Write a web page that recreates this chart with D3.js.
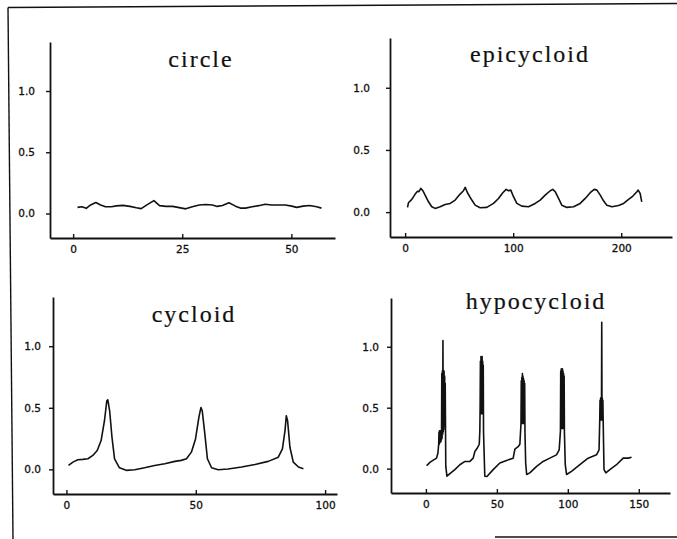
<!DOCTYPE html>
<html>
<head>
<meta charset="utf-8">
<script src="https://cdn.jsdelivr.net/npm/d3@7"></script>
<style>
  html, body { margin: 0; padding: 0; background: #fff; }
  svg { display: block; }
</style>
</head>
<body>
<svg id="chart" width="677" height="539"></svg>
<script>
// ---------------- DATA ----------------
const circleX = [1,2,3,4,5.2,6.3,7.4,8.8,9.9,11.4,13,14.5,15.6,16.9,18.5,19.8,21.3,22.8,24.3,25.8,27.3,28.9,30.4,31.9,33,34.2,35.7,37.2,38.3,39.5,41,42.5,44,45.5,47,48.6,50.1,51.2,52.7,54.2,55.8,56.9];
const circleY = [0.05,0.055,0.042,0.07,0.09,0.07,0.055,0.055,0.062,0.066,0.058,0.047,0.04,0.07,0.105,0.064,0.058,0.058,0.048,0.038,0.055,0.07,0.073,0.07,0.058,0.066,0.088,0.06,0.044,0.044,0.055,0.064,0.075,0.07,0.07,0.07,0.06,0.05,0.06,0.065,0.055,0.044];

const epiX = [2.2,3.1,6.2,9.3,11.5,12.8,14.5,16.4,18.5,21.6,24.7,27.8,32.4,37,41.7,46.3,50.9,54,55.6,57.7,61.7,64.8,69.4,75.6,81.8,86.4,90.4,93.5,95.7,97.8,100.3,103.4,108,114.2,120.4,125,129.6,134.3,136.7,138.9,142,145,149.7,155.9,162,166.7,171.3,175,177.5,180.6,183.6,186.7,191.4,197.5,202.2,206.8,210.8,214.5,215.7,217.5,219];
const epiY = [0.038,0.075,0.102,0.145,0.168,0.165,0.191,0.172,0.137,0.083,0.043,0.030,0.043,0.062,0.070,0.097,0.145,0.172,0.199,0.156,0.097,0.056,0.035,0.038,0.070,0.110,0.156,0.183,0.172,0.177,0.124,0.070,0.048,0.043,0.070,0.097,0.137,0.172,0.183,0.164,0.110,0.056,0.038,0.043,0.070,0.110,0.156,0.183,0.177,0.137,0.091,0.056,0.043,0.054,0.070,0.102,0.129,0.164,0.177,0.15,0.083];

const cycX = [0.8,2.5,4.4,6.3,8.3,10.2,11.9,13.4,14.7,15.6,16,16.7,17.6,18.6,20.5,23.1,26.4,30.2,34.1,38,41.9,44.4,46.4,48.3,49.9,51.2,52,52.5,53.5,54.5,56.1,58.7,62.5,67.7,72.9,78,81.9,83.5,84.5,85,85.5,86.4,87.7,89.7,91.6];
const cycY = [0.032,0.059,0.078,0.081,0.086,0.113,0.153,0.234,0.395,0.556,0.565,0.476,0.261,0.086,0.013,-0.008,-0.003,0.013,0.032,0.046,0.065,0.073,0.086,0.140,0.247,0.422,0.503,0.476,0.288,0.086,0.013,-0.003,0.003,0.019,0.040,0.065,0.099,0.167,0.315,0.436,0.395,0.180,0.059,0.019,0.005];

const hypoX = [0.5,2.8,5.2,7.5,8.5,9.0,
  9.2,9.4,9.6,9.8,10.0,10.2,10.4,10.6,10.8,11.0,
  11.2,11.4,11.6,11.8,12.0,12.2,12.4,12.6,12.8,13.0,13.2,13.4,13.6,
  14.0,14.8,16.9,20.4,23.9,27.5,31,33.3,34.5,36.1,37.6,
  38.0,38.2,38.4,38.6,38.8,39.0,39.2,39.4,39.6,39.8,40.0,40.2,40.4,40.6,
  41.5,43,47.4,52.1,56.8,61.5,62.7,65,66.2,
  67.0,67.2,67.4,67.6,67.8,68.0,68.2,68.4,68.6,68.8,69.0,69.2,69.4,69.6,69.8,
  70.3,71.0,73.2,78,82.6,87.3,92,93.9,
  94.8,95.0,95.2,95.4,95.6,95.8,96.0,96.2,96.4,96.6,96.8,97.0,97.2,97.4,97.6,
  98.2,99.1,102.6,108.5,114.3,120.2,122,
  122.5,122.7,122.9,123.1,123.3,123.5,123.7,123.9,124.1,124.3,124.5,124.7,124.9,
  125.5,126.8,129.6,134.3,139,142.5,144.9];
const hypoY = [0.024,0.051,0.07,0.086,0.13,0.2,
  0.3,0.2,0.31,0.21,0.3,0.22,0.31,0.22,0.3,0.24,
  0.78,0.25,0.8,0.28,1.05,0.3,0.78,0.32,0.8,0.35,0.76,0.4,0.7,
  0.02,-0.062,-0.041,-0.008,0.032,0.059,0.059,0.086,0.14,0.167,0.2,
  0.31,0.5,0.88,0.45,0.92,0.45,0.9,0.48,0.92,0.45,0.88,0.5,0.85,0.3,
  -0.062,-0.065,-0.008,0.046,0.067,0.086,0.16,0.18,0.2,
  0.37,0.72,0.4,0.75,0.37,0.78,0.4,0.76,0.37,0.74,0.4,0.72,0.37,0.7,0.3,
  0.046,-0.048,-0.035,0.019,0.059,0.086,0.113,0.153,
  0.31,0.8,0.34,0.82,0.33,0.8,0.35,0.82,0.33,0.8,0.35,0.78,0.33,0.76,0.3,
  0.032,-0.048,-0.022,0.032,0.086,0.113,0.153,
  0.40,0.56,0.4,0.58,0.42,0.56,0.4,1.2,0.42,0.58,0.4,0.56,0.4,
  -0.008,-0.035,-0.008,0.032,0.086,0.086,0.094];

const yDomain = [-0.2, 1.4];
const yTicks = [0, 0.5, 1.0];

const titles = ["circle", "epicycloid", "cycloid", "hypocycloid"];
const xDomains = [[-5.3, 60], [-14, 247], [-5.2, 104.6], [-24.6, 172]];
const xTickSets = [[0, 25, 50], [0, 100, 200], [0, 50, 100], [0, 50, 100, 150]];
const seriesX = [circleX, epiX, cycX, hypoX];
const seriesY = [circleY, epiY, cycY, hypoY];

// ---------------- LAYOUT ----------------
const layout = [
  {left: 50,  right: 335, top: 42,  bottom: 238, yPad: 11, tx: 200, ty: 67},
  {left: 390, right: 672, top: 38,  bottom: 237, yPad: 16, tx: 529, ty: 62},
  {left: 53,  right: 337, top: 297, bottom: 494, yPad: 8,  tx: 193, ty: 322},
  {left: 391, right: 670, top: 298, bottom: 493, yPad: 8,  tx: 535, ty: 309}
];
const ink = "#111";

const svg = d3.select("#chart");

// scan frame lines
svg.append("line").attr("x1", 8).attr("y1", 7.5).attr("x2", 677).attr("y2", 3.5)
  .attr("stroke", ink).attr("stroke-width", 1.6);
svg.append("line").attr("x1", 8).attr("y1", 7.5).attr("x2", 13).attr("y2", 539)
  .attr("stroke", ink).attr("stroke-width", 1.4);
svg.append("line").attr("x1", 495).attr("y1", 537).attr("x2", 677).attr("y2", 537)
  .attr("stroke", ink).attr("stroke-width", 1.4);

titles.forEach((title, i) => {
  const L = layout[i];
  const x = d3.scaleLinear().domain(xDomains[i]).range([L.left, L.right]);
  const y = d3.scaleLinear().domain(yDomain).range([L.bottom, L.top]);
  const g = svg.append("g");

  const yAxis = g.append("g").attr("transform", `translate(${L.left},0)`)
    .call(d3.axisLeft(y).tickValues(yTicks).tickFormat(d3.format(".1f"))
      .tickSize(4).tickSizeOuter(0).tickPadding(L.yPad));
  const xAxis = g.append("g").attr("transform", `translate(0,${L.bottom})`)
    .call(d3.axisBottom(x).tickValues(xTickSets[i]).tickFormat(d3.format("d"))
      .tickSize(-4).tickSizeOuter(0).tickPadding(8));

  [yAxis, xAxis].forEach(a => {
    a.select(".domain").attr("stroke", ink).attr("stroke-width", 1.8);
    a.selectAll(".tick line").attr("stroke", ink).attr("stroke-width", 1.4);
    a.selectAll(".tick text").attr("fill", ink)
      .attr("stroke", ink).attr("stroke-width", 0.3)
      .style("font-family", "'DejaVu Sans', sans-serif").style("font-size", "10.5px");
  });

  const pts = seriesX[i].map((v, k) => [v, seriesY[i][k]]);
  g.append("path").datum(pts)
    .attr("fill", "none").attr("stroke", ink).attr("stroke-width", 1.6)
    .attr("stroke-linejoin", "round")
    .attr("d", d3.line().x(d => x(d[0])).y(d => y(d[1])));

  g.append("text").attr("x", L.tx + 1).attr("y", L.ty)
    .attr("text-anchor", "middle").attr("fill", ink)
    .attr("stroke", ink).attr("stroke-width", 0.2)
    .style("font-family", "'Liberation Serif', 'Times New Roman', serif")
    .style("font-size", "24px").style("letter-spacing", "2px")
    .text(title);
});
</script>
</body>
</html>
